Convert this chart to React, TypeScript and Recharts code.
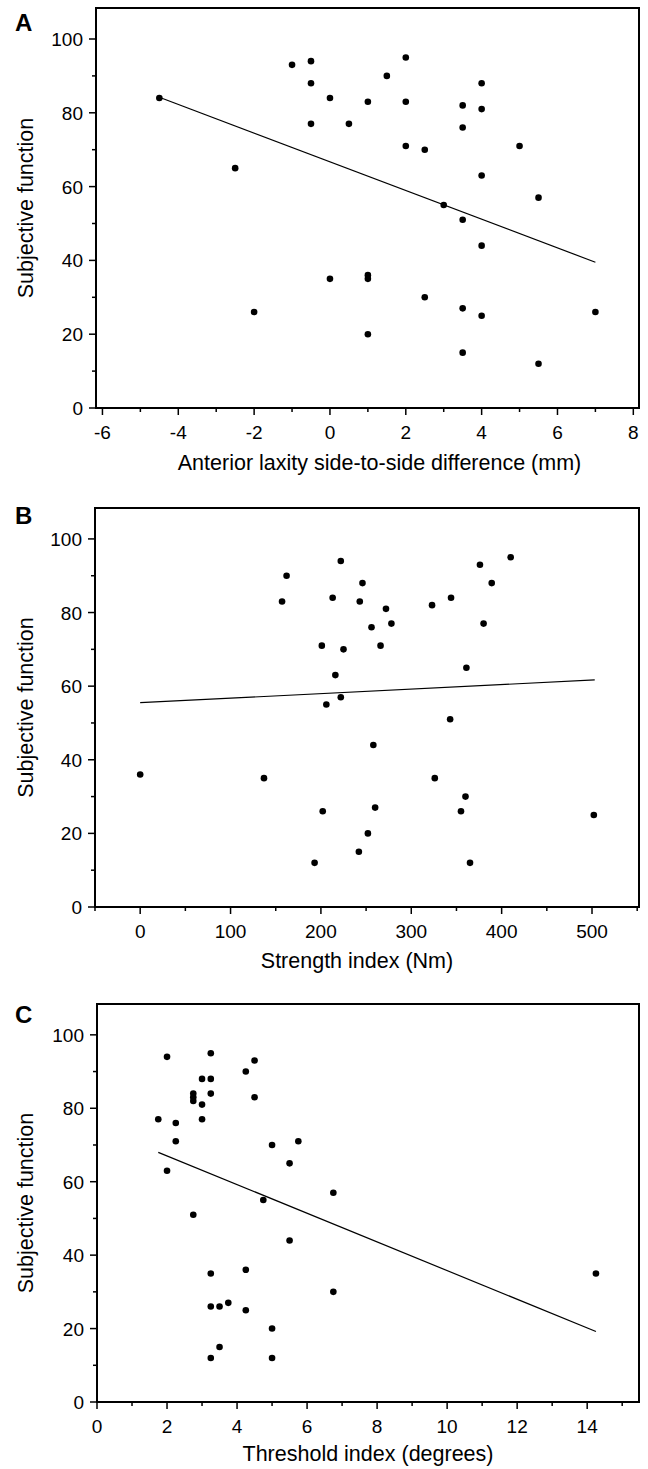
import React from 'react';
import { ScatterChart, Scatter, XAxis, YAxis, ReferenceLine, ReferenceArea } from 'recharts';

const FONT = '"Liberation Sans", Arial, Helvetica, sans-serif';

// shared y axis
const yTicks = [0, 10, 20, 30, 40, 50, 60, 70, 80, 90, 100];
const yMajor = [0, 20, 40, 60, 80, 100];
const yTop = 108.4;

// A: anterior laxity
const laxityTicks = [-6, -5, -4, -3, -2, -1, 0, 1, 2, 3, 4, 5, 6, 7, 8];
const laxityMajor = [-6, -4, -2, 0, 2, 4, 6, 8];
const laxityPoints = [
  { x: -4.5, y: 84 }, { x: -2.5, y: 65 }, { x: -2, y: 26 }, { x: -1, y: 93 },
  { x: -0.5, y: 94 }, { x: -0.5, y: 88 }, { x: -0.5, y: 77 }, { x: 0, y: 84 },
  { x: 0, y: 35 }, { x: 0.5, y: 77 }, { x: 1, y: 83 }, { x: 1, y: 36 },
  { x: 1, y: 35 }, { x: 1, y: 20 }, { x: 1.5, y: 90 }, { x: 2, y: 95 },
  { x: 2, y: 83 }, { x: 2, y: 71 }, { x: 2.5, y: 70 }, { x: 2.5, y: 30 },
  { x: 3, y: 55 }, { x: 3.5, y: 82 }, { x: 3.5, y: 76 }, { x: 3.5, y: 51 },
  { x: 3.5, y: 27 }, { x: 3.5, y: 15 }, { x: 4, y: 88 }, { x: 4, y: 81 },
  { x: 4, y: 63 }, { x: 4, y: 44 }, { x: 4, y: 25 }, { x: 5, y: 71 },
  { x: 5.5, y: 57 }, { x: 5.5, y: 12 }, { x: 7, y: 26 },
];
const laxityFit = [{ x: -4.5, y: 84.2 }, { x: 7, y: 39.5 }];

// B: strength index
const strengthTicks = [-50, 0, 50, 100, 150, 200, 250, 300, 350, 400, 450, 500, 550];
const strengthMajor = [0, 100, 200, 300, 400, 500];
const strengthPoints = [
  { x: 0, y: 36 }, { x: 137, y: 35 }, { x: 157, y: 83 }, { x: 162, y: 90 },
  { x: 193, y: 12 }, { x: 201, y: 71 }, { x: 202, y: 26 }, { x: 206, y: 55 },
  { x: 213, y: 84 }, { x: 216, y: 63 }, { x: 222, y: 94 }, { x: 222, y: 57 },
  { x: 225, y: 70 }, { x: 242, y: 15 }, { x: 243, y: 83 }, { x: 246, y: 88 },
  { x: 252, y: 20 }, { x: 256, y: 76 }, { x: 258, y: 44 }, { x: 260, y: 27 },
  { x: 266, y: 71 }, { x: 272, y: 81 }, { x: 278, y: 77 }, { x: 323, y: 82 },
  { x: 326, y: 35 }, { x: 343, y: 51 }, { x: 344, y: 84 }, { x: 355, y: 26 },
  { x: 360, y: 30 }, { x: 361, y: 65 }, { x: 365, y: 12 }, { x: 376, y: 93 },
  { x: 380, y: 77 }, { x: 389, y: 88 }, { x: 410, y: 95 }, { x: 502, y: 25 },
];
const strengthFit = [{ x: 0, y: 55.5 }, { x: 503, y: 61.7 }];

// C: threshold index
const thresholdTicks = [0, 1, 2, 3, 4, 5, 6, 7, 8, 9, 10, 11, 12, 13, 14, 15];
const thresholdMajor = [0, 2, 4, 6, 8, 10, 12, 14];
const thresholdPoints = [
  { x: 1.75, y: 77 }, { x: 2, y: 94 }, { x: 2, y: 63 }, { x: 2.25, y: 76 },
  { x: 2.25, y: 71 }, { x: 2.75, y: 84 }, { x: 2.75, y: 83 }, { x: 2.75, y: 82 },
  { x: 2.75, y: 51 }, { x: 3, y: 88 }, { x: 3, y: 81 }, { x: 3, y: 77 },
  { x: 3.25, y: 95 }, { x: 3.25, y: 88 }, { x: 3.25, y: 84 }, { x: 3.25, y: 35 },
  { x: 3.25, y: 26 }, { x: 3.25, y: 12 }, { x: 3.5, y: 26 }, { x: 3.5, y: 15 },
  { x: 3.75, y: 27 }, { x: 4.25, y: 90 }, { x: 4.25, y: 36 }, { x: 4.25, y: 25 },
  { x: 4.5, y: 93 }, { x: 4.5, y: 83 }, { x: 4.75, y: 55 }, { x: 5, y: 70 },
  { x: 5, y: 20 }, { x: 5, y: 12 }, { x: 5.5, y: 65 }, { x: 5.5, y: 44 },
  { x: 5.75, y: 71 }, { x: 6.75, y: 57 }, { x: 6.75, y: 30 }, { x: 14.25, y: 35 },
];
const thresholdFit = [{ x: 1.75, y: 68 }, { x: 14.25, y: 19.2 }];

const XTick = (props: any) => {
  const { x, y, payload, major } = props;
  const isMajor = major.includes(payload.value);
  return (
    <g>
      <line x1={x} x2={x} y1={y} y2={y + (isMajor ? 7 : 4)} stroke="#000" strokeWidth={1.5} />
      {isMajor && (
        <text x={x} y={y + 31} textAnchor="middle" fontSize={19} fontFamily={FONT} fill="#000">
          {String(payload.value)}
        </text>
      )}
    </g>
  );
};

const YTick = (props: any) => {
  const { x, y, payload } = props;
  const isMajor = yMajor.includes(payload.value);
  return (
    <g>
      <line x1={x - (isMajor ? 7 : 4)} x2={x} y1={y} y2={y} stroke="#000" strokeWidth={1.5} />
      {isMajor && (
        <text x={x - 13} y={y + 7} textAnchor="end" fontSize={19} fontFamily={FONT} fill="#000">
          {String(payload.value)}
        </text>
      )}
    </g>
  );
};

const Dot = (props: any) => <circle cx={props.cx} cy={props.cy} r={3.3} fill="#000" />;

function Panel(props: any) {
  const { letter, letterY, top, height, margin, yWidth, xHeight, xDomain, xTicks, xMajor, points, fit, title, titleDx, titleOffset } = props;
  return (
    <div style={{ position: 'absolute', left: 0, top, width: 648, height }}>
      <ScatterChart width={648} height={height} margin={margin}>
        <XAxis
          type="number"
          dataKey="x"
          domain={xDomain}
          ticks={xTicks}
          interval={0}
          allowDataOverflow
          tickLine={false}
          tickSize={0}
          tickMargin={0}
          height={xHeight}
          axisLine={{ stroke: '#000', strokeWidth: 2 }}
          tick={<XTick major={xMajor} />}
          label={{ value: title, position: 'insideTop', offset: titleOffset, dx: titleDx, fontSize: 21.5, fill: '#000', fontFamily: FONT }}
        />
        <YAxis
          type="number"
          dataKey="y"
          domain={[0, yTop]}
          ticks={yTicks}
          interval={0}
          allowDataOverflow
          tickLine={false}
          tickSize={0}
          tickMargin={0}
          width={yWidth}
          axisLine={{ stroke: '#000', strokeWidth: 2 }}
          tick={<YTick />}
          label={{ value: 'Subjective function', angle: -90, position: 'insideLeft', offset: 25, fontSize: 21.5, fill: '#000', fontFamily: FONT, style: { textAnchor: 'middle' } }}
        />
        <ReferenceArea x1={xDomain[0]} x2={xDomain[1]} y1={0} y2={yTop} fill="none" stroke="#000" strokeWidth={2} ifOverflow="visible" />
        <ReferenceLine segment={fit} stroke="#000" strokeWidth={1.2} ifOverflow="visible" />
        <Scatter data={points} isAnimationActive={false} shape={Dot} />
      </ScatterChart>
      <svg width={60} height={40} style={{ position: 'absolute', left: 0, top: 0 }}>
        <text x={15} y={letterY} fontSize={24} fontWeight="bold" fontFamily={FONT} fill="#000">{letter}</text>
      </svg>
    </div>
  );
}

export default function App() {
  return (
    <div style={{ position: 'absolute', left: 0, top: 0, width: 648, height: 1469, background: '#fff', fontFamily: FONT }}>
      <Panel
        letter="A" letterY={31} top={0} height={500}
        margin={{ top: 8, right: 9, bottom: 2, left: 0 }} yWidth={96} xHeight={90}
        xDomain={[-6.17, 8.15]} xTicks={laxityTicks} xMajor={laxityMajor}
        points={laxityPoints} fit={laxityFit}
        title="Anterior laxity side-to-side difference (mm)" titleDx={12} titleOffset={47}
      />
      <Panel
        letter="B" letterY={24} top={500} height={500}
        margin={{ top: 8, right: 9, bottom: 3, left: 0 }} yWidth={95} xHeight={90}
        xDomain={[-50, 552]} xTicks={strengthTicks} xMajor={strengthMajor}
        points={strengthPoints} fit={strengthFit}
        title="Strength index (Nm)" titleDx={-10} titleOffset={46}
      />
      <Panel
        letter="C" letterY={23} top={1000} height={469}
        margin={{ top: 4, right: 9, bottom: 1, left: 0 }} yWidth={97} xHeight={66}
        xDomain={[0, 15.48]} xTicks={thresholdTicks} xMajor={thresholdMajor}
        points={thresholdPoints} fit={thresholdFit}
        title="Threshold index (degrees)" titleDx={0} titleOffset={44}
      />
    </div>
  );
}
